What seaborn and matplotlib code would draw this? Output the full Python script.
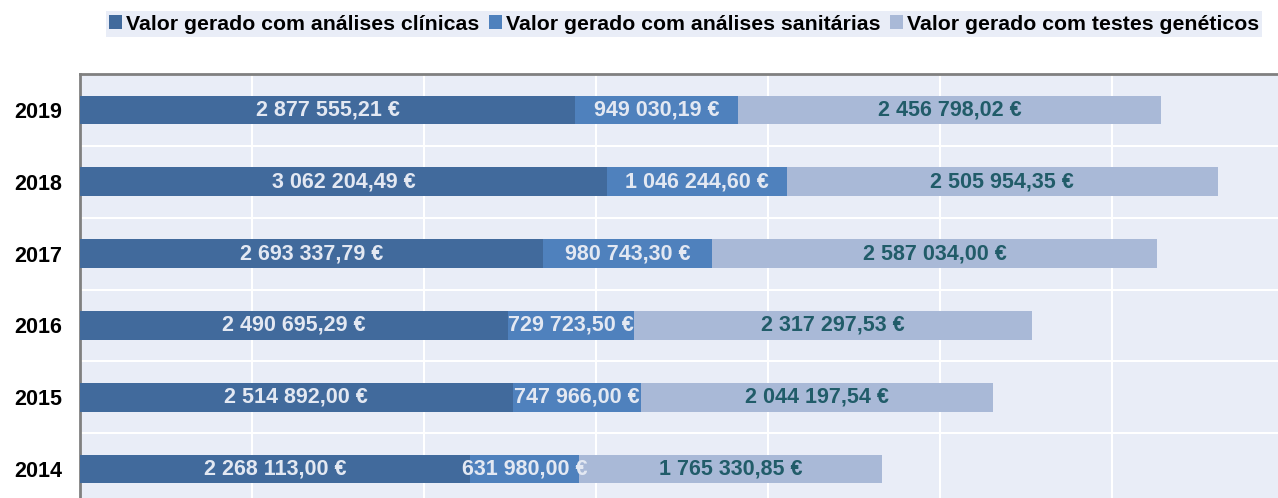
import matplotlib
matplotlib.use("Agg")
import matplotlib.pyplot as plt
from matplotlib.patches import Patch
from matplotlib.ticker import MultipleLocator, FixedLocator
import seaborn as sns
import pandas as pd

years = ["2014", "2015", "2016", "2017", "2018", "2019"]
clinicas = [2268113.00, 2514892.00, 2490695.29, 2693337.79, 3062204.49, 2877555.21]
sanitarias = [631980.00, 747966.00, 729723.50, 980743.30, 1046244.60, 949030.19]
geneticos = [1765330.85, 2044197.54, 2317297.53, 2587034.00, 2505954.35, 2456798.02]
series_names = ["Valor gerado com análises clínicas",
                "Valor gerado com análises sanitárias",
                "Valor gerado com testes genéticos"]

colors = ["#416A9C", "#4F81BD", "#A9B9D7"]
label_colors = ["#E3E8F2", "#E3E8F2", "#215C69"]
bg = "#E9EDF7"

sns.set_style("white")
plt.rcParams["font.family"] = ["Liberation Sans", "DejaVu Sans"]
plt.rcParams["text.color"] = "black"
plt.rcParams["ytick.labelcolor"] = "black"

df = pd.DataFrame({"ano": years, "c": clinicas, "s": sanitarias, "g": geneticos})
df["cs"] = df["c"] + df["s"]
df["total"] = df["cs"] + df["g"]
order = years[::-1]

fig = plt.figure(figsize=(12.78, 4.98), dpi=100)
ax = fig.add_axes([80 / 1278, -7 / 498, 1204 / 1278, 431 / 498])
ax.set_facecolor(bg)

# stacked by overdrawing cumulative totals
for col, colr in zip(["total", "cs", "c"], colors[::-1]):
    sns.barplot(data=df, x=col, y="ano", order=order, color=colr, width=0.4,
                linewidth=0, saturation=1, ax=ax, zorder=3)

# data labels at segment centres
for i, yr in enumerate(order):
    row = df[df["ano"] == yr].iloc[0]
    left = 0
    for j, key in enumerate(["c", "s", "g"]):
        v = row[key]
        txt = f"{v:,.2f}".replace(",", " ").replace(".", ",") + " €"
        ax.text(left + v / 2, i, txt, ha="center", va="center",
                fontsize=15.5, fontweight="bold", color=label_colors[j], zorder=5)
        left += v

ax.set_xlim(0, 7e6)
ax.set_ylim(5.5, -0.5)
ax.xaxis.set_major_locator(MultipleLocator(1e6))
ax.yaxis.set_minor_locator(FixedLocator([k + 0.5 for k in range(-1, 6)]))
ax.grid(True, axis="x", which="major", color="white", linewidth=1.5, zorder=0)
ax.grid(True, axis="y", which="minor", color="white", linewidth=1.5, zorder=0)
ax.set_axisbelow(True)
ax.set_xlabel("")
ax.set_ylabel("")
ax.tick_params(axis="x", labelbottom=False, length=0)
ax.tick_params(axis="y", which="major", length=0, pad=13, labelsize=15.5)
ax.tick_params(axis="y", which="minor", direction="in", length=5, color="#808080")
for lbl in ax.get_yticklabels():
    lbl.set_fontweight("bold")
    lbl.set_color("black")

for side in ["top", "left"]:
    ax.spines[side].set_color("#808080")
    ax.spines[side].set_linewidth(2)
for side in ["right", "bottom"]:
    ax.spines[side].set_visible(False)

handles = [Patch(facecolor=c, edgecolor="none") for c in colors]
leg = fig.legend(handles, series_names, loc="center",
                 bbox_to_anchor=(684 / 1278, 1 - 24 / 498), bbox_transform=fig.transFigure,
                 ncol=3, frameon=True, fancybox=False, handlelength=0.6, handleheight=0.6,
                 handletextpad=0.2, columnspacing=0.45, borderpad=0.15,
                 prop={"weight": "bold", "size": 15.3})
leg.get_frame().set_facecolor(bg)
leg.get_frame().set_edgecolor("none")
leg.get_frame().set_alpha(1)
for t in leg.get_texts():
    t.set_color("black")

fig.savefig("out.png", dpi=100)
